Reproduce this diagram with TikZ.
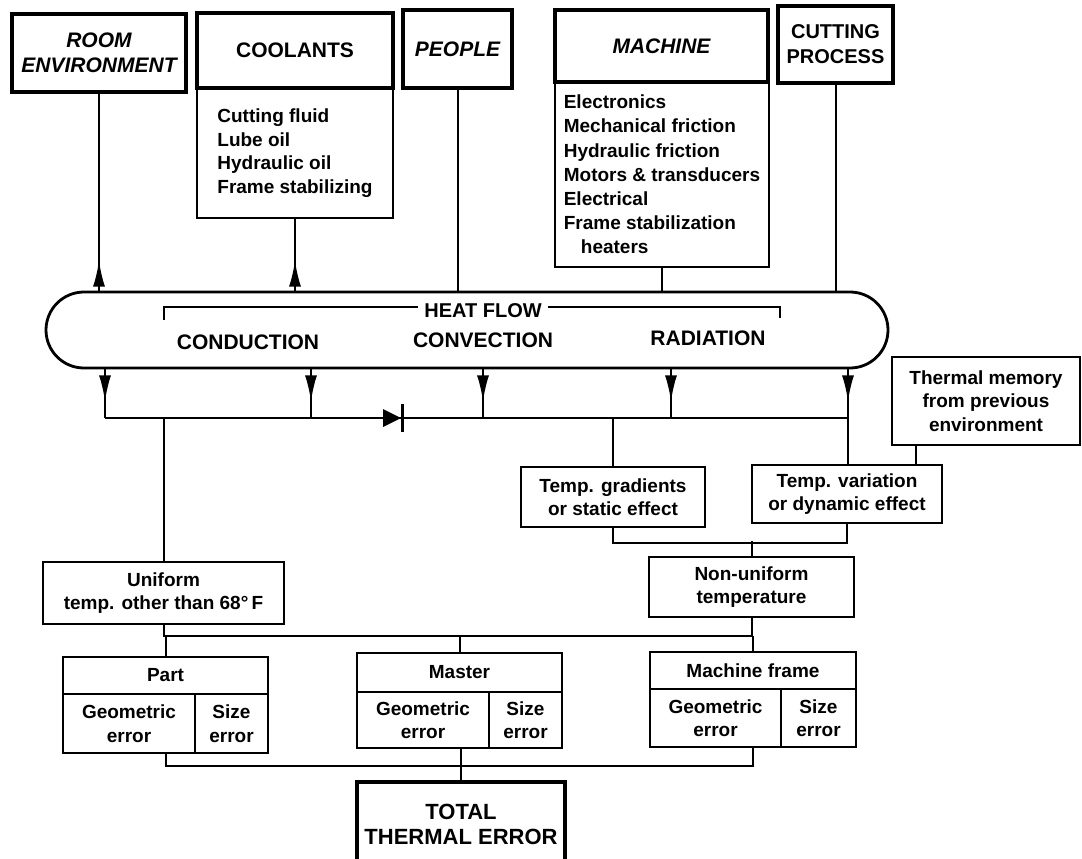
\documentclass[tikz,border=0pt]{standalone}
\usepackage{fontspec}
\setmainfont{Liberation Sans}
\usetikzlibrary{arrows.meta}
\newlength\upx
\setlength\upx{0.5pt}
\begin{document}
\begin{tikzpicture}[x=0.5pt,y=-0.5pt,
  font=\bfseries\fontsize{9.5}{11.8}\selectfont,
  wh/.style 2 args={minimum width=#1\upx, minimum height=#2\upx},
  hdr/.style={draw, line width=2pt, inner sep=0pt, align=center, font=\bfseries\fontsize{10.5}{12.5}\selectfont},
  box/.style={draw, line width=1.4pt, inner sep=0pt, align=center},
  lbox/.style={box, align=left},
  conn/.style={line width=1pt},
  arr/.style={conn, -{Latex[length=13pt,width=6pt]}},
  lbl/.style={font=\bfseries\fontsize{10.5}{12.5}\selectfont, inner sep=1pt}
]
\useasboundingbox (0,0) rectangle (1082,858);
% ---------- top sources ----------
\node[hdr, wh={174}{78}, font=\bfseries\itshape\fontsize{10.5}{12.5}\selectfont] (room) at (99,53) {ROOM\\ENVIRONMENT};
\node[lbox, wh={196}{130}] (coolb) at (295,153) {Cutting fluid\\Lube oil\\Hydraulic oil\\Frame stabilizing};
\node[hdr, wh={196}{75}] (coolh) at (295,50.5) {COOLANTS};
\node[hdr, wh={109}{78}, font=\bfseries\itshape\fontsize{10.5}{12.5}\selectfont] (people) at (457.5,49) {PEOPLE};
\node[lbox, wh={214}{185}, font=\bfseries\fontsize{9.5}{12.1}\selectfont] (machb) at (662,174.5) {Electronics\\Mechanical friction\\Hydraulic friction\\Motors \& transducers\\Electrical\\Frame stabilization\\\hspace*{0.9em}heaters};
\node[hdr, wh={213}{72}, font=\bfseries\itshape\fontsize{10.5}{12.5}\selectfont] (mach) at (661.5,46) {MACHINE};
\node[hdr, wh={115}{77}, font=\bfseries\fontsize{10}{12.5}\selectfont] (cut) at (835.5,44.5) {CUTTING\\PROCESS};
% ---------- heat flow ----------
\node[draw, line width=1.4pt, rounded corners=19pt, wh={842}{76}] (flow) at (467,330) {};
\draw[line width=0.8pt] (164,320) -- (164,307) -- (780,307) -- (780,318);
\node[lbl, fill=white, inner xsep=3pt, font=\bfseries\fontsize{10}{12}\selectfont] (hf) at (483,311) {HEAT FLOW};
\node[lbl] (cond) at (248,342) {CONDUCTION};
\node[lbl] (conv) at (483,340) {CONVECTION};
\node[lbl] (rad) at (708,338) {RADIATION};
% inputs into heat flow
\draw[conn] (room.south) -- (room.south |- flow.north);
\draw[arr] (room.south |- flow.north) -- ++(0,-30);
\draw[conn] (coolb.south) -- (coolb.south |- flow.north);
\draw[arr] (coolb.south |- flow.north) -- ++(0,-30);
\draw[conn] (people.south) -- (people.south |- flow.north);
\draw[conn] (machb.south) -- (machb.south |- flow.north);
\draw[conn] (cut.south) -- (cut.south |- flow.north);
% outputs
\coordinate (b1) at (105,418);
\coordinate (b2) at (311,418);
\coordinate (b3) at (483,418);
\coordinate (b4) at (671,418);
\coordinate (b5) at (848,418);
\foreach \b in {b1,b2,b3,b4,b5}{
  \draw[conn] (\b |- flow.south) -- (\b);
  \draw[arr] (\b |- flow.south) -- ++(0,32);
}
\draw[conn] (b1) -- (b5);
\fill (383,409) -- (401,418) -- (383,427) -- cycle;
\draw[line width=1.5pt] (402,404) -- (402,432);
% ---------- effects ----------
\node[box, wh={188}{88}] (mem) at (986,401) {Thermal memory\\from previous\\environment};
\node[box, wh={184}{60}] (grad) at (613,497) {Temp. gradients\\or static effect};
\node[box, wh={190}{58}] (var) at (847,494) {Temp. variation\\or dynamic effect};
\node[box, wh={205}{60}] (nonu) at (751.5,587) {Non-uniform\\temperature};
\node[box, wh={241}{62}] (uni) at (163.5,593) {Uniform\\temp. other than 68°\,F};
\draw[conn] (grad.north |- b1) -- (grad.north);
\draw[conn] (b5) -- (b5 |- var.north);
\coordinate (m1) at (916,0);
\draw[conn] (m1 |- mem.south) -- (m1 |- var.north);
\draw[conn] (uni.north |- b1) -- (uni.north);
\draw[conn] (grad.south) -- ++(0,15) -| (var.south);
\draw[conn] (nonu.north) -- ++(0,-15);
% ---------- error boxes ----------
\node[box, wh={132}{59}] (partg) at (129,723.5) {Geometric\\error};
\node[box, wh={73}{59}] (parts) at (231.5,723.5) {Size\\error};
\node[box, wh={205}{37}] (parth) at (165.5,675.5) {Part};
\node[box, wh={132}{56}] (mastg) at (423,720) {Geometric\\error};
\node[box, wh={73}{56}] (masts) at (525.5,720) {Size\\error};
\node[box, wh={205}{39}] (masth) at (459.5,672.5) {Master};
\node[box, wh={131}{58}] (frameg) at (715.5,718) {Geometric\\error};
\node[box, wh={75}{58}] (frames) at (818.5,718) {Size\\error};
\node[box, wh={206}{37}] (frameh) at (753,670.5) {Machine frame};
\coordinate (j2) at (0,636);
\draw[conn] (uni.south) -- (uni.south |- j2) -| (nonu.south);
\draw[conn] (parth.north |- j2) -- (parth.north);
\draw[conn] (masth.north |- j2) -- (masth.north);
\draw[conn] (frameh.north |- j2) -- (frameh.north);
% ---------- total ----------
\node[hdr, wh={208}{84}, font=\bfseries\fontsize{11}{12.5}\selectfont] (total) at (461,824) {TOTAL\\THERMAL ERROR};
\coordinate (j3) at (0,766);
\draw[conn] (parth.south |- partg.south) -- (parth.south |- j3) -| (frameh.south |- frameg.south);
\draw[conn] (total.north |- mastg.south) -- (total.north);
\end{tikzpicture}
\end{document}
